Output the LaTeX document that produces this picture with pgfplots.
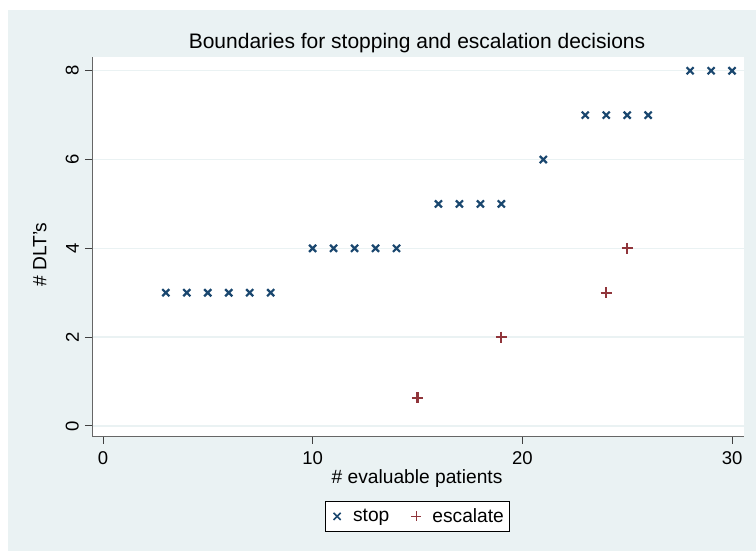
\documentclass[border=0pt]{standalone}
\usepackage{fontspec}
\setmainfont{Liberation Sans}
\usepackage{pgfplots}
\pgfplotsset{compat=1.18}
\definecolor{bg}{HTML}{EAF2F3}
\definecolor{snavy}{RGB}{26,71,111}
\definecolor{smaroon}{RGB}{144,53,59}
\begin{document}
\begin{tikzpicture}[x=1pt,y=1pt]
\useasboundingbox (0,0) rectangle (756,551);
\fill[bg] (8,0) rectangle (756,541);
\begin{axis}[
  at={(92pt,114pt)}, anchor=south west,
  scale only axis, width=652pt, height=380pt,
  xmin=-0.52, xmax=30.57, ymin=-0.25, ymax=8.31,
  axis x line*=bottom, axis y line*=left,
  axis line style={-, black!60, line width=1pt},
  axis background/.style={fill=white},
  xtick={0,10,20,30}, ytick={0,2,4,6,8},
  tick align=outside, major tick length=7pt,
  tick style={black!75, line width=0.8pt},
  ymajorgrids, grid style={bg, line width=1.3pt},
  /pgf/number format/assume math mode=true,
  ticklabel style={font=\fontsize{18.5}{20}\selectfont},
  yticklabel style={rotate=90, anchor=south, inner ysep=6pt},
  xticklabel style={anchor=north, inner ysep=7pt},
  every axis title shift=0pt,
  title={Boundaries for stopping and escalation decisions},
  title style={font=\fontsize{21}{24}\selectfont, at={(axis description cs:0.4985,1.037)}, anchor=center, inner sep=0pt, yshift=0pt},
  xlabel={\# evaluable patients},
  xlabel style={font=\fontsize{19.2}{22}\selectfont, at={(axis description cs:0.4985,-0.1105)}, anchor=center, inner sep=0pt},
  ylabel={\# DLT's},
  ylabel style={font=\fontsize{19.2}{22}\selectfont, at={(axis description cs:-0.0798,0.48)}, anchor=center, rotate=0, inner sep=0pt},
  legend columns=2,
  legend style={draw=black, line width=0.6pt, fill=white, font=\fontsize{19.2}{22}\selectfont,
    at={(axis description cs:0.4985,-0.209)}, anchor=center,
    inner xsep=5pt, inner ysep=7pt,
    nodes={inner sep=0pt},
    /tikz/column sep=0pt,
    /tikz/every even column/.append style={column sep=20pt}},
  legend image code/.code={\path[draw=none,fill=none] (0pt,-5pt) rectangle (23pt,5pt); \draw[#1, line width=1.6pt, mark size=5pt] plot coordinates {(7pt,0pt)};},
]
\addplot[only marks, mark=x, mark size=5pt, line width=2.2pt, color=snavy] coordinates {
(3,3) (4,3) (5,3) (6,3) (7,3) (8,3)
(10,4) (11,4) (12,4) (13,4) (14,4)
(16,5) (17,5) (18,5) (19,5)
(21,6)
(23,7) (24,7) (25,7) (26,7)
(28,8) (29,8) (30,8)
};
\addlegendentry{stop}
\addplot[only marks, mark=+, mark size=5.5pt, line width=2.2pt, color=smaroon] coordinates {
(15,0.63) (19,2) (24,3) (25,4)
};
\addlegendentry{escalate\hspace{4pt}}
\end{axis}
\end{tikzpicture}
\end{document}
